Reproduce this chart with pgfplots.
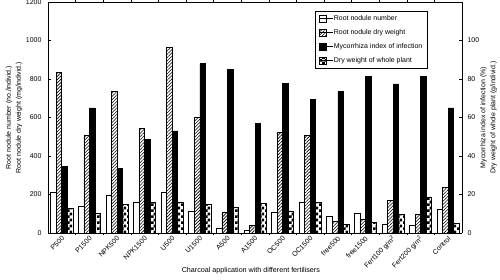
\documentclass[border=0pt]{standalone}
\usepackage{fontspec}
\setmainfont{Liberation Sans}
\usepackage{pgfplots}
\usepackage{pgfplotstable}
\pgfplotsset{compat=1.18}
\usetikzlibrary{patterns,patterns.meta}

\pgfdeclarepatternformonly{mycheck}{\pgfqpoint{0pt}{0pt}}{\pgfqpoint{5.6bp}{5.6bp}}{\pgfqpoint{5.6bp}{5.6bp}}{%
  \pgfpathrectangle{\pgfpointorigin}{\pgfqpoint{2.8bp}{2.8bp}}%
  \pgfpathrectangle{\pgfqpoint{2.8bp}{2.8bp}}{\pgfqpoint{2.8bp}{2.8bp}}%
  \pgfusepath{fill}}

\pgfplotstableread{
x white hatch black check
0  210 835 34.5 12.7
1  140 507 65.0 10.0
2  197 735 33.5 14.8
3  160 545 48.8 16.0
4  210 963 53.0 16.0
5  113 602 88.0 14.8
6  25  110 85.0 13.3
7  15  38  57.0 15.2
8  110 521 77.7 11.5
9  160 505 69.2 16.0
10 85  62  73.5 4.5
11 102 73  81.4 5.3
12 45  171 77.5 9.7
13 40  97  81.4 18.8
14 125 238 65.0 5.0
}\data

\pgfplotsset{
  mylegend/.style={legend image code/.code={%
      \draw[##1, line width=0.6bp] (0bp,-3.5bp) rectangle (7bp,3.5bp);
      \path (0bp,0bp) -- (13bp,0bp);}},
  hatchstyle/.style={draw=black, line width=0.6bp, pattern={Lines[angle=45,distance=2.3bp,line width=0.6bp]}},
  checkstyle/.style={draw=black, line width=0.6bp, pattern=mycheck},
}

\begin{document}
\begin{tikzpicture}
\begin{axis}[
  name=ax,
  scale only axis,
  width=414bp, height=231bp,
  xmin=-0.5, xmax=14.5,
  ymin=0, ymax=1200,
  ybar, bar width=0.2,
  axis y line*=left,
  axis line style={line width=0.6bp},
  ytick={0,200,...,1200},
  xtick={0,...,14},
  xticklabels={P500,P1500,NPK500,NPK1500,U500,U1500,A500,A1500,OC500,OC1500,free500,free1500,{Fert100 g/m\textsuperscript{2}},{Fert200 g/m\textsuperscript{2}},Control},
  major x tick style={draw=none},
  minor xtick={0.5,1.5,...,13.5},
  minor tick length=2bp,
  major tick length=3bp,
  tick style={line width=0.5bp, black},
  /pgf/number format/assume math mode=true,
  /pgf/number format/1000 sep={},
  ticklabel style={font=\fontsize{7}{8}\selectfont},
  xticklabel style={rotate=45, anchor=east, inner sep=1bp, xshift=1bp, yshift=-2bp},
  yticklabel style={xshift=-3bp},
  ylabel={Root nodule number (no./individ.)\\Root nodule dry weight (mg/individ.)},
  ylabel style={at={(axis description cs:-0.082,0.5)}, anchor=center, align=center, font=\fontsize{7}{10}\selectfont},
  xlabel={Charcoal application with different fertilisers},
  xlabel style={at={(axis description cs:0.49,-0.165)}, anchor=center, font=\fontsize{7.2}{8}\selectfont},
]
\addplot[fill=white, draw=black, line width=0.6bp, bar shift=-0.3] table[x=x,y=white]{\data};
\addplot[hatchstyle, bar shift=-0.1] table[x=x,y=hatch]{\data};
\end{axis}
\begin{axis}[
  scale only axis,
  width=414bp, height=231bp,
  xmin=-0.5, xmax=14.5,
  ymin=0, ymax=120,
  ybar, bar width=0.2,
  axis x line=none,
  axis y line*=right,
  axis line style={line width=0.6bp},
  ytick={0,20,...,100},
  major tick length=3bp,
  tick style={line width=0.5bp, black},
  /pgf/number format/assume math mode=true,
  ticklabel style={font=\fontsize{7}{8}\selectfont},
  yticklabel style={xshift=2bp},
  ylabel={Mycorrhiza index of infection (\%)\\Dry weight of whole plant (g/individ.)},
  ylabel style={at={(axis description cs:1.064,0.5)}, anchor=center, align=center, rotate=0, font=\fontsize{7}{10}\selectfont},
  legend style={at={(0.645,0.961)}, anchor=north west, draw=black, line width=0.6bp,
    font=\fontsize{7}{8}\selectfont, row sep=5.5bp, inner xsep=4bp, inner ysep=3bp,
    nodes={inner sep=1bp}},
  legend cell align=left,
]
\addlegendimage{mylegend, fill=white, draw=black}
\addlegendentry{Root nodule number}
\addlegendimage{mylegend, hatchstyle}
\addlegendentry{Root nodule dry weight}
\addplot[mylegend, fill=black, draw=black, line width=0.6bp, bar shift=0.1] table[x=x,y=black]{\data};
\addlegendentry{Mycorrhiza index of infection}
\addplot[mylegend, checkstyle, bar shift=0.3] table[x=x,y=check]{\data};
\addlegendentry{Dry weight of whole plant}
\end{axis}
\pgfresetboundingbox
\path[use as bounding box] ([shift={(-48bp,-47bp)}]ax.south west) rectangle ([shift={(452bp,233bp)}]ax.south west);
\end{tikzpicture}
\end{document}
